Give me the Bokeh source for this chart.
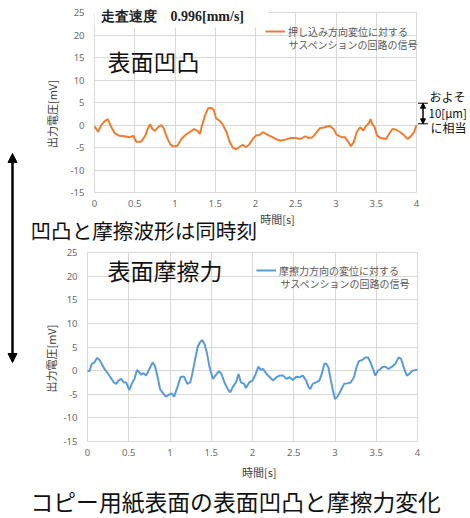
import math
from bokeh.plotting import figure
from bokeh.models import (FixedTicker, Label, Arrow, NormalHead, TeeHead, BoxAnnotation,
                          Legend, LegendItem, Range1d, LinearAxis)
from bokeh.embed import file_html
from bokeh.resources import INLINE

# ---------------- data ----------------
x_ticks = [0, 0.5, 1, 1.5, 2, 2.5, 3, 3.5, 4]
x_tick_labels = ["0", "0.5", "1", "1.5", "2", "2.5", "3", "3.5", "4"]
y_ticks = [-15, -10, -5, 0, 5, 10, 15, 20, 25]
y_tick_labels = ["-15", "-10", "-5", "0", "5", "10", "15", "20", "25"]

# surface irregularity signal (orange)
t_surface = [0.00, 0.046, 0.08, 0.12, 0.164, 0.20, 0.25, 0.31, 0.37, 0.44, 0.48, 0.52, 0.58,
             0.63, 0.66, 0.69, 0.72, 0.75, 0.79, 0.83, 0.86, 0.90, 0.94, 0.98, 1.03, 1.08,
             1.13, 1.19, 1.235, 1.28, 1.31, 1.33, 1.37, 1.41, 1.45, 1.48, 1.51, 1.55, 1.59,
             1.64, 1.68, 1.72, 1.76, 1.80, 1.84, 1.88, 1.92, 1.965, 2.005, 2.05, 2.09, 2.13,
             2.17, 2.21, 2.25, 2.31, 2.38, 2.44, 2.50, 2.56, 2.62, 2.66, 2.71, 2.76, 2.80,
             2.86, 2.92, 2.97, 3.01, 3.07, 3.11, 3.155, 3.185, 3.22, 3.26, 3.30, 3.34, 3.37,
             3.41, 3.43, 3.45, 3.48, 3.51, 3.555, 3.62, 3.66, 3.70, 3.74, 3.79, 3.85, 3.89,
             3.92, 3.97, 4.00]
v_surface = [-0.3, -1.5, -0.15, 0.75, 1.3, -0.15, -1.8, -2.4, -2.5, -2.7, -2.4, -3.7, -3.7,
             -2.4, -0.9, 0.15, -0.9, -1.3, -0.5, 0.0, -0.75, -2.8, -4.25, -4.8, -4.6, -3.1,
             -2.2, -1.5, -0.9, -1.3, -2.0, -0.5, 2.0, 3.7, 3.8, 3.4, 1.5, 1.0, 0.2,
             -1.6, -3.8, -5.1, -5.4, -4.9, -4.4, -4.9, -4.4, -3.1, -2.35, -2.2, -1.6, -2.0,
             -2.35, -2.7, -3.1, -3.5, -3.2, -2.9, -2.9, -3.1, -2.5, -2.9, -2.7, -1.6, -0.7,
             -0.5, -0.15, -0.9, -2.2, -2.7, -2.7, -3.8, -4.7, -3.8, -1.5, -0.5, -1.25, -0.3,
             0.45, 1.3, 0.2, -0.5, -2.35, -2.9, -3.1, -2.0, -0.9, -1.0, -1.5, -2.35, -3.1,
             -2.7, -1.6, 0.0]

# surface friction signal (blue)
t_friction = [0.00, 0.024, 0.05, 0.085, 0.117, 0.145, 0.173, 0.206, 0.238, 0.278, 0.32, 0.347,
              0.375, 0.407, 0.44, 0.468, 0.508, 0.536, 0.569, 0.60, 0.63, 0.65, 0.68, 0.71,
              0.75, 0.79, 0.82, 0.85, 0.88, 0.92, 0.95, 0.99, 1.02, 1.05, 1.09, 1.13, 1.17,
              1.21, 1.245, 1.27, 1.30, 1.335, 1.36, 1.39, 1.42, 1.45, 1.48, 1.52, 1.55, 1.59,
              1.62, 1.66, 1.70, 1.73, 1.76, 1.80, 1.83, 1.86, 1.90, 1.92, 1.96, 2.00, 2.04,
              2.07, 2.10, 2.13, 2.17, 2.21, 2.25, 2.29, 2.33, 2.37, 2.41, 2.45, 2.49, 2.53,
              2.57, 2.61, 2.65, 2.68, 2.70, 2.73, 2.77, 2.81, 2.84, 2.87, 2.89, 2.92, 2.95,
              2.98, 3.00, 3.03, 3.07, 3.11, 3.15, 3.19, 3.23, 3.26, 3.29, 3.33, 3.37, 3.40,
              3.43, 3.46, 3.49, 3.52, 3.54, 3.57, 3.61, 3.65, 3.69, 3.73, 3.77, 3.80, 3.83,
              3.87, 3.90, 3.94, 3.98, 4.00]
v_friction = [0.0, -0.15, 1.4, 1.75, 2.7, 2.25, 1.4, 0.35, -0.35, -1.4, -2.5, -2.8,
              -2.1, -1.75, -2.5, -2.5, -4.1, -2.8, -1.75, 0.15, -0.35, -0.85, -0.55, -1.05,
              0.35, 1.75, 0.85, -1.4, -3.9, -4.9, -5.5, -5.1, -4.8, -5.5, -3.5, -1.3, -1.3,
              -2.8, -2.5, -0.7, 2.0, 5.0, 5.9, 6.5, 5.6, 3.5, 0.7, -1.75, -1.05, -0.15,
              -0.55, -2.5, -3.9, -4.6, -3.5, -2.5, -0.7, -2.5, -2.8, -3.7, -2.5, -2.1, -0.7,
              0.85, 0.15, 0.35, -0.7, -1.4, -2.1, -1.4, -1.05, -1.05, -1.75, -1.4, -2.0, -1.3,
              -1.4, -1.05, -2.1, -3.5, -3.9, -2.8, -2.5, -2.1, -0.7, 1.4, 1.55, 0.7, -2.1,
              -4.6, -6.0, -5.5, -4.2, -2.8, -2.7, -2.5, -1.4, 0.7, 2.0, 2.25, 2.8, 2.8,
              1.75, 0.35, -1.05, 0.0, 0.15, 0.7, 0.85, 0.35, 0.85, 1.4, 2.8, 2.5, 0.85,
              -1.05, -0.7, 0.0, 0.15, 0.2]

surface_legend = ["押し込み方向変位に対する", "サスペンションの回路の信号"]
friction_legend = ["摩擦力方向の変位に対する", "サスペンションの回路の信号"]

# ---------------- styling / layout ----------------
W, H = 470, 518
ORANGE = "#ED7D31"
BLUE = "#5B9BD5"
GRID = "#D9D9D9"
TICK = "#6b6b6b"
JP = "Noto Sans CJK JP"
X0, X1, Y0, Y1 = 0, 4, -15, 25

# plot-area pixel boxes on the page: left, right, top, bottom
TOP_BOX = (94, 416, 12, 192)
BOT_BOX = (87, 417, 252, 441)


def ranges_for(box):
    l, r, t, b = box
    kx = (r - l) / (X1 - X0)
    ky = (b - t) / (Y1 - Y0)
    xr = Range1d(X0 - l / kx, X0 + (W - l) / kx)
    yr = Range1d(Y1 - (H - t) / ky, Y1 + t / ky)
    return xr, yr


# page coordinates (pixels, y downwards) are the default ranges
p = figure(width=W, height=H, output_backend="svg", toolbar_location=None,
           x_range=Range1d(0, W), y_range=Range1d(H, 0),
           x_axis_type=None, y_axis_type=None,
           min_border=0, min_border_left=0, min_border_right=0,
           min_border_top=0, min_border_bottom=0)
p.outline_line_color = None
p.background_fill_color = "white"
p.border_fill_color = "white"

xr1, yr1 = ranges_for(TOP_BOX)
xr2, yr2 = ranges_for(BOT_BOX)
p.extra_x_ranges = {"x1": xr1, "x2": xr2}
p.extra_y_ranges = {"y1": yr1, "y2": yr2}


def add_axes(xname, yname, box):
    l, r, t, b = box
    yax = LinearAxis(x_range_name=xname, y_range_name=yname, fixed_location=X0,
                     bounds=(Y0, Y1), ticker=FixedTicker(ticks=y_ticks),
                     major_label_overrides=dict(zip(y_ticks, y_tick_labels)),
                     major_tick_in=r - l, major_tick_out=0, major_tick_line_color=GRID,
                     minor_tick_line_color=None, axis_line_color=None,
                     major_label_standoff=10, major_label_text_font="Noto Sans",
                     major_label_text_font_size="9.5px", major_label_text_color=TICK,
                     level="underlay")
    xax = LinearAxis(x_range_name=xname, y_range_name=yname, fixed_location=Y0,
                     bounds=(X0, X1), ticker=FixedTicker(ticks=x_ticks),
                     major_label_overrides=dict(zip(x_ticks, x_tick_labels)),
                     major_tick_in=b - t, major_tick_out=0, major_tick_line_color=GRID,
                     minor_tick_line_color=None, axis_line_color=None,
                     major_label_standoff=7, major_label_text_font="Noto Sans",
                     major_label_text_font_size="9.5px", major_label_text_color=TICK,
                     level="underlay")
    p.add_layout(yax, "left")
    p.add_layout(xax, "below")


add_axes("x1", "y1", TOP_BOX)
add_axes("x2", "y2", BOT_BOX)

r1 = p.line(t_surface, v_surface, x_range_name="x1", y_range_name="y1",
            line_color=ORANGE, line_width=2)
r2 = p.line(t_friction, v_friction, x_range_name="x2", y_range_name="y2",
            line_color=BLUE, line_width=2)


def label(x, y, text, size, color="#111111", align="left", **kw):
    p.add_layout(Label(x=x, y=y, text=text, text_font=kw.pop("font", JP), text_font_size=size,
                       text_color=color, text_align=align, text_baseline="middle", **kw))


# ---- top chart texts ----
p.add_layout(BoxAnnotation(left=94, right=267, top=0, bottom=27, fill_color="white",
                           fill_alpha=1, line_color=None))
label(100, 16, "走査速度　0.996[mm/s]", "14px", "#222222", font="Liberation Serif",
      text_font_style="bold")
label(107, 60, "表面凹凸", "23px")
leg1 = Legend(items=[LegendItem(label=surface_legend[0], renderers=[r1])],
              location=(265, H - 41), border_line_color=None, background_fill_alpha=0,
              padding=0, margin=0, glyph_width=20, label_standoff=3, label_text_font=JP,
              label_text_font_size="10px", label_text_color="#595959")
p.add_layout(leg1)
label(288, 44.3, surface_legend[1], "10px", "#595959")

label(429, 95.5, "およそ", "12px")
label(428, 112, "10[μm]", "11.5px")
label(430, 127, "に相当", "12px")
p.add_layout(Arrow(x_start=422.5, y_start=123.3, x_end=422.5, y_end=102.7, line_width=1,
                   line_color="black",
                   start=TeeHead(size=10, line_width=1, line_color="black"),
                   end=TeeHead(size=10, line_width=1, line_color="black")))
p.add_layout(Arrow(x_start=422.5, y_start=123.3, x_end=422.5, y_end=102.7, line_width=1,
                   line_color="black",
                   start=NormalHead(size=5, fill_color="black", line_color="black"),
                   end=NormalHead(size=5, fill_color="black", line_color="black")))

label(51, 113.5, "出力電圧[mV]", "11px", "#404040", align="center", angle=math.pi / 2)
label(277, 218, "時間[s]", "11px", "#404040", align="center")
label(30, 229, "凹凸と摩擦波形は同時刻", "20.6px")

p.add_layout(Arrow(x_start=12, y_start=362, x_end=12, y_end=153, line_width=2.5,
                   line_color="black",
                   start=NormalHead(size=9, fill_color="black", line_color="black"),
                   end=NormalHead(size=9, fill_color="black", line_color="black")))

# ---- bottom chart texts ----
label(107, 269.5, "表面摩擦力", "23px")
leg2 = Legend(items=[LegendItem(label=friction_legend[0], renderers=[r2])],
              location=(256, H - 280), border_line_color=None, background_fill_alpha=0,
              padding=0, margin=0, glyph_width=20, label_standoff=3, label_text_font=JP,
              label_text_font_size="10px", label_text_color="#595959")
p.add_layout(leg2)
label(280, 283.3, friction_legend[1], "10px", "#595959")
label(50, 358, "出力電圧[mV]", "11px", "#404040", align="center", angle=math.pi / 2)
label(258.7, 471.7, "時間[s]", "11px", "#404040", align="center")
label(30, 500.5, "コピー用紙表面の表面凹凸と摩擦力変化", "22.8px")

open("out.html", "w").write(file_html(p, INLINE))
